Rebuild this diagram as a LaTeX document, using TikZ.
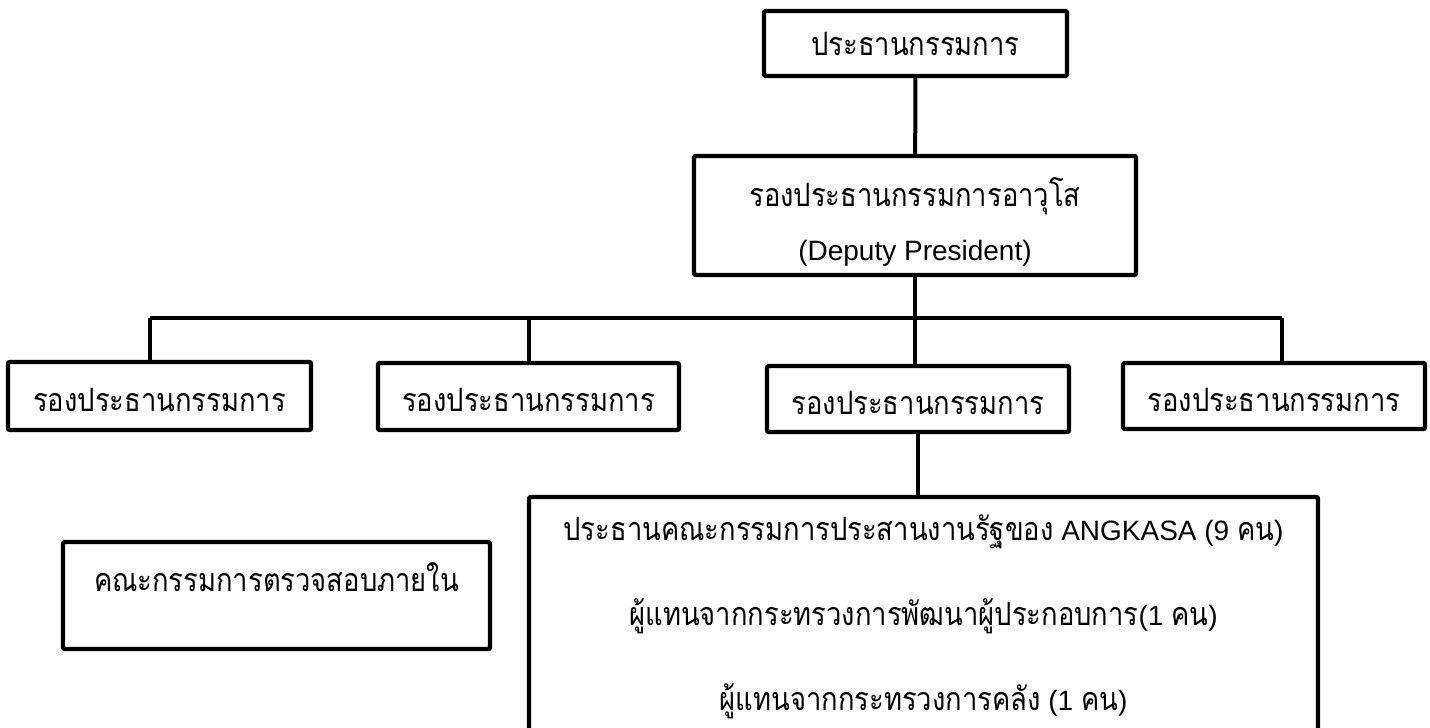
\documentclass[tikz,border=0pt]{standalone}
\usepackage{fontspec}
\setmainfont{Liberation Sans}
\newfontfamily\thaifont[Script=Thai,Scale=1.15,FakeStretch=0.85]{Loma}
\newcommand{\thtxt}[1]{{\thaifont #1}}
\usetikzlibrary{positioning}
\tikzset{
  box/.style={draw,line width=2.2pt,rounded corners=1pt,inner sep=0pt,align=center,
    font=\fontsize{14}{17}\selectfont},
  boxsize/.style 2 args={minimum width=#1*0.5pt,minimum height=#2*0.5pt},
  lowtext/.style={text height=16pt,text depth=1pt},
  hightext/.style={text height=8pt,text depth=12.5pt},
  link/.style={line width=2pt}
}

\begin{document}
\begin{tikzpicture}[x=0.5pt,y=-0.5pt]
  \useasboundingbox (0,0) rectangle (1430,728);
  \node[box,boxsize={303}{65}] (chair) at (915.5,43.5) {\thtxt{ประธานกรรมการ}};
  \node[box,boxsize={442}{119}] (deputy) at (915,215.5) {\rule{0pt}{21pt}\thtxt{รองประธานกรรมการอาวุโส}\\[10pt] (Deputy President)};
  \node[box,lowtext,boxsize={303}{68}] (vp1) at (159.5,396) {\thtxt{รองประธานกรรมการ}};
  \node[box,lowtext,boxsize={301}{67}] (vp2) at (528.5,396.5) {\thtxt{รองประธานกรรมการ}};
  \node[box,lowtext,boxsize={302}{66}] (vp3) at (918,399) {\thtxt{รองประธานกรรมการ}};
  \node[box,lowtext,boxsize={302}{66}] (vp4) at (1274,396) {\thtxt{รองประธานกรรมการ}};
  \node[box,boxsize={789}{240}] (members) at (923.5,617) {\thtxt{ประธานคณะกรรมการประสานงานรัฐของ} ANGKASA (9 \thtxt{คน})\\[24pt] \thtxt{ผู้แทนจากกระทรวงการพัฒนาผู้ประกอบการ}(1 \thtxt{คน})\\[24pt] \thtxt{ผู้แทนจากกระทรวงการคลัง} (1 \thtxt{คน})};
  \node[box,hightext,boxsize={427}{107}] (audit) at (276.5,595.5) {\thtxt{คณะกรรมการตรวจสอบภายใน}};
  \coordinate (busL) at (150,318);
  \coordinate (busR) at (1282,318);
  \draw[link] (chair) -- (deputy);
  \draw[link] (deputy.south) -- (deputy.south |- vp3.north);
  \draw[link] (busL) -- (busR);
  \draw[link] (busL) -- (busL |- vp1.north);
  \draw[link] (vp2.north |- busL) -- (vp2.north);
  \draw[link] (busR) -- (busR |- vp4.north);
  \draw[link] (vp3.south) -- (vp3.south |- members.north);
\end{tikzpicture}
\end{document}
